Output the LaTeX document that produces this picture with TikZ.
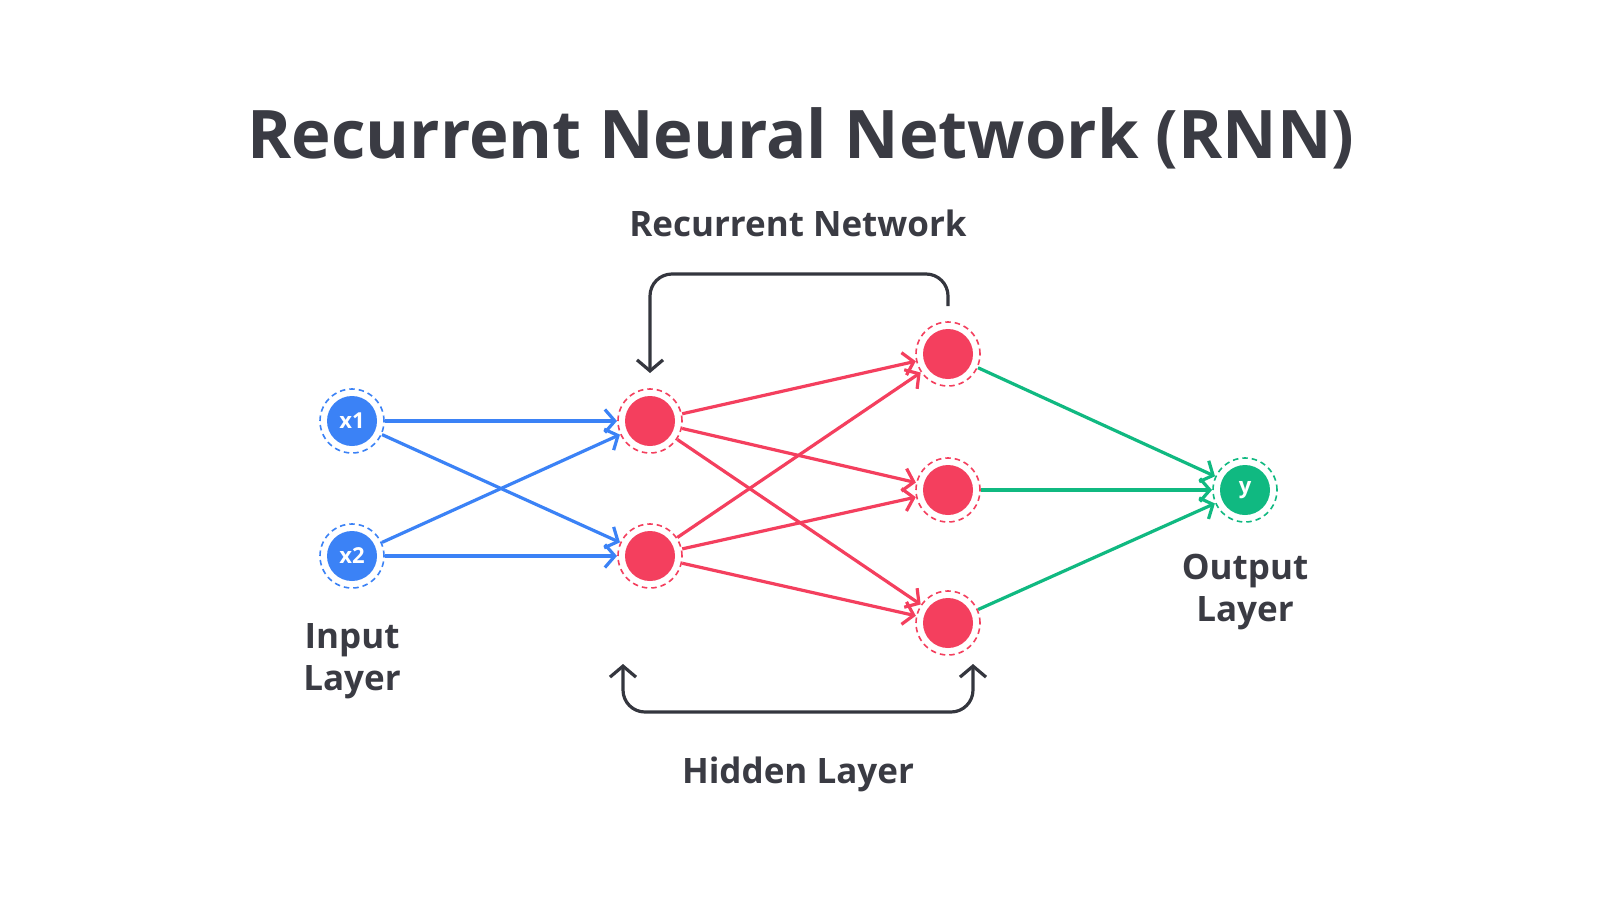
\documentclass[tikz,border=0pt]{standalone}
\usepackage{fontspec}
\setmainfont{Open Sans}
\usetikzlibrary{arrows.meta}
\definecolor{txt}{RGB}{58,59,67}
\definecolor{nblue}{RGB}{59,130,246}
\definecolor{nred}{RGB}{244,63,94}
\definecolor{ngreen}{RGB}{16,185,129}
\definecolor{loopc}{RGB}{52,54,62}
\tikzset{
  neuron/.style={circle, minimum size=64pt, inner sep=0pt, outer sep=1pt,
    draw=#1, line width=1.6pt, dash pattern=on 5.5pt off 4pt,
    path picture={\fill[#1] (path picture bounding box.center) circle (25pt);},
    text=white, font=\fontsize{22}{24}\selectfont\bfseries},
  conn/.style={draw=#1, line width=3.2pt, -{Straight Barb[length=10pt,width=23pt,line width=3.2pt]}},
  loopline/.style={draw=loopc, line width=3.2pt, rounded corners=22pt},
  lbl/.style={text=txt, font=\fontsize{35}{42}\selectfont\bfseries, align=center},
}
\begin{document}
\begin{tikzpicture}[x=1pt,y=-1pt]
\useasboundingbox[fill=white] (0,0) rectangle (1600,900);
\node[text=txt, font=\fontsize{67}{74}\selectfont\bfseries] (title) at (801,138) {Recurrent Neural Network (RNN)};
\node[lbl] (rec) at (798,223) {Recurrent Network};
\node[lbl] (hid) at (798,774) {Hidden Layer};
\node[lbl] (inl) at (352,661) {Input\\Layer};
\node[lbl] (outl) at (1245,592) {Output\\Layer};

\node[neuron=nblue] (x1) at (352,421) {x1};
\node[neuron=nblue] (x2) at (352,556) {x2};
\node[neuron=nred] (h1) at (650,421) {};
\node[neuron=nred] (h2) at (650,556) {};
\node[neuron=nred] (o1) at (948,354) {};
\node[neuron=nred] (o2) at (948,490) {};
\node[neuron=nred] (o3) at (948,623) {};
\node[neuron=ngreen] (y) at (1245,490) {y};

\foreach \a in {x1,x2}{\foreach \b in {h1,h2}{\draw[conn=nblue] (\a) -- (\b);}}
\foreach \a in {h1,h2}{\foreach \b in {o1,o2,o3}{\draw[conn=nred] (\a) -- (\b);}}
\foreach \a in {o1,o2,o3}{\draw[conn=ngreen] (\a) -- (y);}

\coordinate (ts) at (948,306);
\coordinate (tl) at (650,274);
\coordinate (tr) at (948,274);
\coordinate (te) at (650,373);
\draw[loopline, -{Straight Barb[length=11pt,width=26pt,line width=3.2pt]}] (ts) -- (tr) -- (tl) -- (te);

\coordinate (bl) at (623,664);
\coordinate (br) at (973,664);
\coordinate (bbl) at (623,712);
\coordinate (bbr) at (973,712);
\draw[loopline, {Straight Barb[length=11pt,width=26pt,line width=3.2pt]}-{Straight Barb[length=11pt,width=26pt,line width=3.2pt]}] (bl) -- (bbl) -- (bbr) -- (br);
\end{tikzpicture}
\end{document}
